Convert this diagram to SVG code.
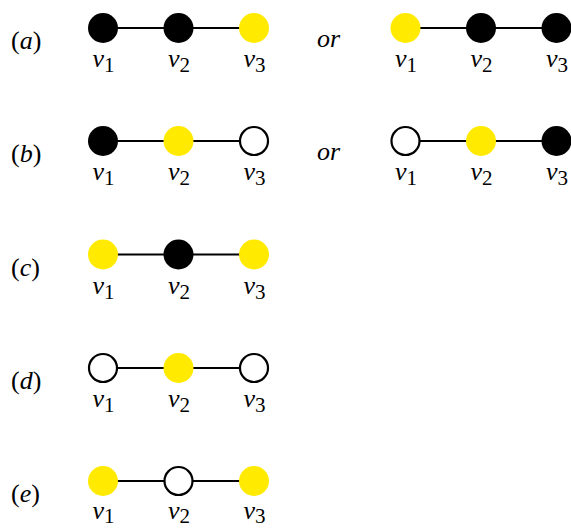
<svg xmlns="http://www.w3.org/2000/svg" width="571" height="528" viewBox="0 0 571 528" font-family="Liberation Serif, DejaVu Serif, serif">
<style>
text{font-size:26px;fill:#000}
.it{font-style:italic}
.sub{font-size:21px;font-style:normal}
.e{stroke:#000;stroke-width:2.2}
.b{fill:#000}
.y{fill:#FFEA00}
.w{fill:#fff;stroke:#000;stroke-width:2.2}
</style>
<g id="connectors">
<line class="e" x1="103" y1="28" x2="254" y2="28"/>
<line class="e" x1="405.5" y1="28" x2="556.5" y2="28"/>
<line class="e" x1="103" y1="141" x2="254" y2="141"/>
<line class="e" x1="405.5" y1="141" x2="556.5" y2="141"/>
<line class="e" x1="103" y1="254.5" x2="254" y2="254.5"/>
<line class="e" x1="103" y1="368" x2="254" y2="368"/>
<line class="e" x1="103" y1="481" x2="254" y2="481"/>
</g>
<g id="labels">
<text x="11" y="49">(<tspan class="it">a</tspan>)</text>
<text x="317" y="47" class="it">or</text>
<text x="11" y="162">(<tspan class="it">b</tspan>)</text>
<text x="317" y="160" class="it">or</text>
<text x="11" y="275.5">(<tspan class="it">c</tspan>)</text>
<text x="11" y="389">(<tspan class="it">d</tspan>)</text>
<text x="11" y="502">(<tspan class="it">e</tspan>)</text>
</g>
<g id="row-a">
<g id="a1"><circle class="b" cx="103" cy="28" r="15"/><text x="103.5" y="67" text-anchor="middle" class="it">v<tspan class="sub" dy="5">1</tspan></text></g>
<g id="a2"><circle class="b" cx="178.5" cy="28" r="15"/><text x="179" y="67" text-anchor="middle" class="it">v<tspan class="sub" dy="5">2</tspan></text></g>
<g id="a3"><circle class="y" cx="254" cy="28" r="15"/><text x="254.5" y="67" text-anchor="middle" class="it">v<tspan class="sub" dy="5">3</tspan></text></g>
<g id="a4"><circle class="y" cx="405.5" cy="28" r="15"/><text x="406" y="67" text-anchor="middle" class="it">v<tspan class="sub" dy="5">1</tspan></text></g>
<g id="a5"><circle class="b" cx="481" cy="28" r="15"/><text x="481.5" y="67" text-anchor="middle" class="it">v<tspan class="sub" dy="5">2</tspan></text></g>
<g id="a6"><circle class="b" cx="556.5" cy="28" r="15"/><text x="557" y="67" text-anchor="middle" class="it">v<tspan class="sub" dy="5">3</tspan></text></g>
</g>
<g id="row-b">
<g id="b1"><circle class="b" cx="103" cy="141" r="15"/><text x="103.5" y="180" text-anchor="middle" class="it">v<tspan class="sub" dy="5">1</tspan></text></g>
<g id="b2"><circle class="y" cx="178.5" cy="141" r="15"/><text x="179" y="180" text-anchor="middle" class="it">v<tspan class="sub" dy="5">2</tspan></text></g>
<g id="b3"><circle class="w" cx="254" cy="141" r="14"/><text x="254.5" y="180" text-anchor="middle" class="it">v<tspan class="sub" dy="5">3</tspan></text></g>
<g id="b4"><circle class="w" cx="405.5" cy="141" r="14"/><text x="406" y="180" text-anchor="middle" class="it">v<tspan class="sub" dy="5">1</tspan></text></g>
<g id="b5"><circle class="y" cx="481" cy="141" r="15"/><text x="481.5" y="180" text-anchor="middle" class="it">v<tspan class="sub" dy="5">2</tspan></text></g>
<g id="b6"><circle class="b" cx="556.5" cy="141" r="15"/><text x="557" y="180" text-anchor="middle" class="it">v<tspan class="sub" dy="5">3</tspan></text></g>
</g>
<g id="row-c">
<g id="c1"><circle class="y" cx="103" cy="254.5" r="15"/><text x="103.5" y="293.5" text-anchor="middle" class="it">v<tspan class="sub" dy="5">1</tspan></text></g>
<g id="c2"><circle class="b" cx="178.5" cy="254.5" r="15"/><text x="179" y="293.5" text-anchor="middle" class="it">v<tspan class="sub" dy="5">2</tspan></text></g>
<g id="c3"><circle class="y" cx="254" cy="254.5" r="15"/><text x="254.5" y="293.5" text-anchor="middle" class="it">v<tspan class="sub" dy="5">3</tspan></text></g>
</g>
<g id="row-d">
<g id="d1"><circle class="w" cx="103" cy="368" r="14"/><text x="103.5" y="407" text-anchor="middle" class="it">v<tspan class="sub" dy="5">1</tspan></text></g>
<g id="d2"><circle class="y" cx="178.5" cy="368" r="15"/><text x="179" y="407" text-anchor="middle" class="it">v<tspan class="sub" dy="5">2</tspan></text></g>
<g id="d3"><circle class="w" cx="254" cy="368" r="14"/><text x="254.5" y="407" text-anchor="middle" class="it">v<tspan class="sub" dy="5">3</tspan></text></g>
</g>
<g id="row-e">
<g id="e1"><circle class="y" cx="103" cy="481" r="15"/><text x="103.5" y="519" text-anchor="middle" class="it">v<tspan class="sub" dy="4">1</tspan></text></g>
<g id="e2"><circle class="w" cx="178.5" cy="481" r="14"/><text x="179" y="519" text-anchor="middle" class="it">v<tspan class="sub" dy="4">2</tspan></text></g>
<g id="e3"><circle class="y" cx="254" cy="481" r="15"/><text x="254.5" y="519" text-anchor="middle" class="it">v<tspan class="sub" dy="4">3</tspan></text></g>
</g>
</svg>
